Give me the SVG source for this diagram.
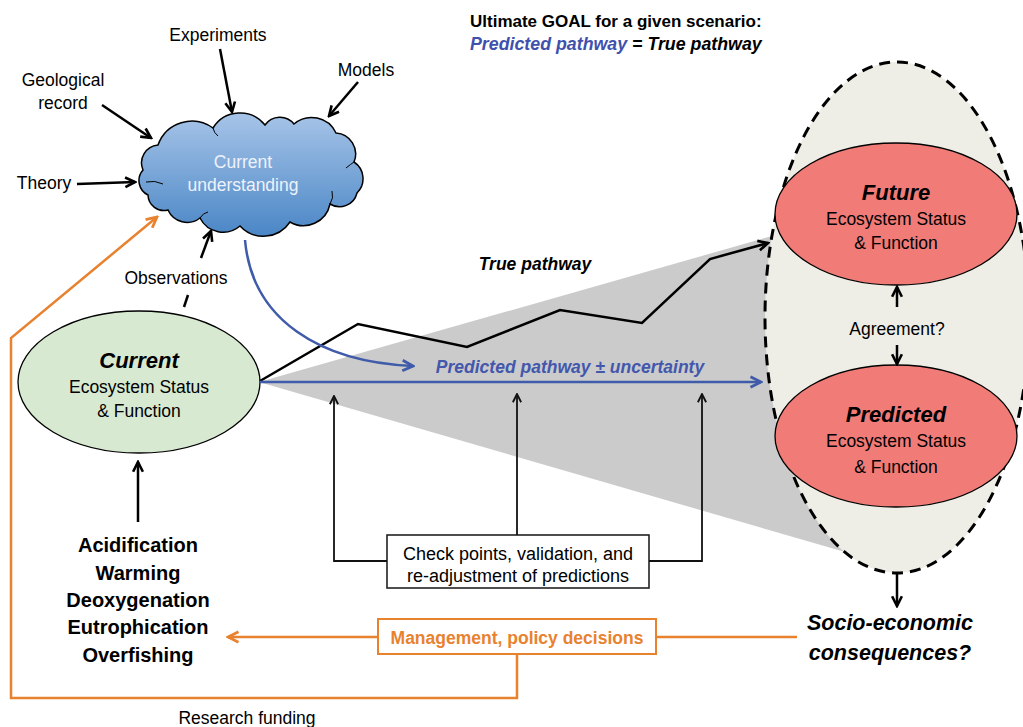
<svg xmlns="http://www.w3.org/2000/svg" width="1023" height="727" viewBox="0 0 1023 727">
<style>
text{font-family:"Liberation Sans",Arial,sans-serif;fill:#000;text-anchor:middle}
.r{font-size:17.5px}
.b{font-size:17.5px;font-weight:bold}
.bi{font-weight:bold;font-style:italic}
.big{font-size:22px;font-weight:bold;font-style:italic}
.st{font-size:20px;font-weight:bold}
.k{fill:none;stroke:#000;stroke-width:2.5}
.kt{fill:none;stroke:#111;stroke-width:1.8}
.o{fill:none;stroke:#e8822f;stroke-width:2.5}
.bl{fill:none;stroke:#3f5ba9;stroke-width:2.5}
</style>
<defs>
<linearGradient id="cg" x1="0" y1="0" x2="0" y2="1">
<stop offset="0" stop-color="#a7c4e8"/>
<stop offset="1" stop-color="#4a86c6"/>
</linearGradient>
<marker id="ak" viewBox="0 0 12 12" refX="10.5" refY="6" markerWidth="13" markerHeight="13" markerUnits="userSpaceOnUse" orient="auto"><path d="M1.5,1.5 L10.5,6 L1.5,10.5" fill="none" stroke="#000" stroke-width="2.4"/></marker>
<marker id="akt" viewBox="0 0 12 12" refX="10.5" refY="6" markerWidth="11" markerHeight="11" markerUnits="userSpaceOnUse" orient="auto"><path d="M1.5,1.5 L10.5,6 L1.5,10.5" fill="none" stroke="#111" stroke-width="2"/></marker>
<marker id="ao" viewBox="0 0 12 12" refX="10.5" refY="6" markerWidth="14" markerHeight="14" markerUnits="userSpaceOnUse" orient="auto"><path d="M1.5,1.5 L10.5,6 L1.5,10.5" fill="none" stroke="#e8822f" stroke-width="2.4"/></marker>
<marker id="ab" viewBox="0 0 12 12" refX="10.5" refY="6" markerWidth="14" markerHeight="14" markerUnits="userSpaceOnUse" orient="auto"><path d="M1.5,1.5 L10.5,6 L1.5,10.5" fill="none" stroke="#3f5ba9" stroke-width="2.4"/></marker>
</defs>
<rect width="1023" height="727" fill="#fff"/>

<g id="title">
<text class="b" x="470" y="27" style="text-anchor:start;font-size:17px">Ultimate GOAL for a given scenario:</text>
<text class="bi" x="470" y="50" style="text-anchor:start;font-size:17.8px"><tspan fill="#3f51ad">Predicted pathway</tspan> = True pathway</text>
</g>

<g id="uncertainty-cone">
<polygon points="259,382 772,236 845,552" fill="#cbcbcb"/>
</g>

<g id="cloud">
<path d="M158,145 A36,36 0 0 1 213,128 A32,32 0 0 1 265,125 A18,18 0 0 1 294,124 A27,27 0 0 1 336,133 A21,21 0 0 1 354,162 A20,20 0 0 1 357,193 A18,18 0 0 1 330,204 A27,27 0 0 1 290,222 A32,32 0 0 1 240,226 A26,26 0 0 1 200,218 A21,21 0 0 1 168,210 A16,16 0 0 1 148,195 A16,16 0 0 1 143,170 A18,18 0 0 1 158,145 Z" fill="url(#cg)" stroke="#000" stroke-width="1.5"/>
<path d="M146,182 Q155,180 163,184" fill="none" stroke="#000" stroke-width="1"/>
<path d="M330,204 Q334,198 332,191" fill="none" stroke="#000" stroke-width="1"/>
<path d="M200,218 Q203,213 208,212" fill="none" stroke="#000" stroke-width="1"/>
<path d="M346,168 Q351,164 354,162" fill="none" stroke="#000" stroke-width="1"/>
<path d="M213,128 Q214,133 218,136" fill="none" stroke="#000" stroke-width="1"/>
<text class="r" x="243" y="168" style="fill:#eef2fa">Current</text>
<text class="r" x="243" y="191" style="fill:#eef2fa">understanding</text>
</g>

<g id="inputs">
<text class="r" x="218" y="41">Experiments</text>
<text class="r" x="366" y="76">Models</text>
<text class="r" x="63" y="86">Geological</text>
<text class="r" x="63" y="109">record</text>
<text class="r" x="44" y="189">Theory</text>
<text class="r" x="176" y="284">Observations</text>
</g>

<g id="current">
<ellipse cx="139" cy="382" rx="121" ry="71" fill="#d8e9d1" stroke="#000" stroke-width="1.3"/>
<text class="big" x="139" y="368">Current</text>
<text class="r" x="139" y="393">Ecosystem Status</text>
<text class="r" x="139" y="417">&amp; Function</text>
</g>

<g id="stressors">
<text class="st" x="138" y="552">Acidification</text>
<text class="st" x="138" y="580">Warming</text>
<text class="st" x="138" y="607">Deoxygenation</text>
<text class="st" x="138" y="634">Eutrophication</text>
<text class="st" x="138" y="662">Overfishing</text>
</g>

<g id="outcome-space">
<ellipse cx="897" cy="317.5" rx="132" ry="255.5" fill="#eeeee6" stroke="#000" stroke-width="3" stroke-dasharray="11,7"/>
</g>

<g id="future">
<ellipse cx="896" cy="214" rx="121" ry="71" fill="#f07b77" stroke="#000" stroke-width="1.3"/>
<text class="big" x="896" y="200">Future</text>
<text class="r" x="896" y="225">Ecosystem Status</text>
<text class="r" x="896" y="249">&amp; Function</text>
</g>

<g id="predicted">
<ellipse cx="896" cy="436" rx="121" ry="71" fill="#f07b77" stroke="#000" stroke-width="1.3"/>
<text class="big" x="896" y="422">Predicted</text>
<text class="r" x="896" y="447">Ecosystem Status</text>
<text class="r" x="896" y="473">&amp; Function</text>
</g>

<g id="agreement">
<text class="r" x="897" y="335">Agreement?</text>
</g>

<g id="socio">
<text class="bi" x="890" y="630" style="font-size:21.5px">Socio-economic</text>
<text class="bi" x="890" y="660" style="font-size:21.5px">consequences?</text>
</g>

<g id="checkpoints">
<rect x="387" y="535" width="262" height="53" fill="#fff" stroke="#222" stroke-width="1.6"/>
<text class="r" x="518" y="560" style="font-size:18px">Check points, validation, and</text>
<text class="r" x="518" y="582" style="font-size:18px">re-adjustment of predictions</text>
</g>

<g id="management">
<rect x="378" y="619" width="278" height="35" fill="#fff" stroke="#e8822f" stroke-width="2"/>
<text class="b" x="517" y="644" style="fill:#e8822f">Management, policy decisions</text>
</g>

<g id="labels">
<text class="bi" x="535" y="270" style="font-size:17.5px">True pathway</text>
<text class="bi" x="570" y="373" style="font-size:17.5px;fill:#4357ad">Predicted pathway ± uncertainty</text>
<text class="r" x="247" y="724">Research funding</text>
</g>

<g id="connectors">
<line class="k" x1="220" y1="49" x2="232" y2="112" marker-end="url(#ak)"/>
<line class="k" x1="358" y1="82" x2="329" y2="116" marker-end="url(#ak)"/>
<line class="k" x1="102" y1="105" x2="151" y2="138" marker-end="url(#ak)"/>
<line class="k" x1="77" y1="184" x2="135" y2="182" marker-end="url(#ak)"/>
<line class="k" x1="201" y1="258" x2="211" y2="231" marker-end="url(#ak)"/>
<line class="k" x1="184" y1="307" x2="188" y2="295"/>
<line class="k" x1="138" y1="522" x2="138" y2="462" marker-end="url(#ak)"/>
<line class="k" x1="897" y1="307" x2="897" y2="287" marker-end="url(#ak)"/>
<line class="k" x1="897" y1="345" x2="897" y2="364" marker-end="url(#ak)"/>
<line class="k" x1="897" y1="573" x2="897" y2="606" marker-end="url(#ak)"/>
<polyline class="k" points="260,381 358,324 467,347 560,310 642,323 710,259 768,243" marker-end="url(#ak)"/>
<line class="bl" x1="260" y1="382" x2="761" y2="382" marker-end="url(#ab)"/>
<path class="bl" d="M245,240 C252,320 320,362 413,366" marker-end="url(#ab)"/>
<polyline class="kt" points="387,561 334,561 334,396" marker-end="url(#akt)"/>
<line class="kt" x1="517" y1="535" x2="517" y2="394" marker-end="url(#akt)"/>
<polyline class="kt" points="649,561 702,561 702,394" marker-end="url(#akt)"/>
<line class="o" x1="797" y1="637" x2="656" y2="637"/>
<line class="o" x1="378" y1="637" x2="228" y2="637" marker-end="url(#ao)"/>
<polyline class="o" points="517,654 517,698 11,698 11,338 157,217" marker-end="url(#ao)"/>
</g>
</svg>
